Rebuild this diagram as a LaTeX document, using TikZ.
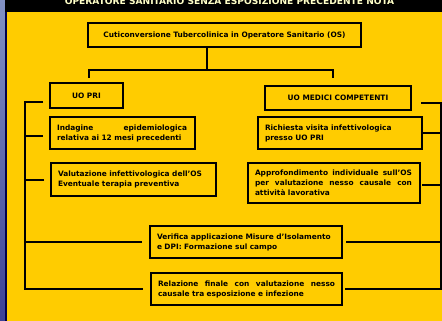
\documentclass[tikz,border=0pt]{standalone}
\usepackage{fontspec}
\setmainfont{DejaVu Sans}
\definecolor{yel}{RGB}{255,204,0}
\definecolor{hdtext}{RGB}{255,255,200}
\definecolor{bluetop}{RGB}{130,145,195}
\definecolor{bluebot}{RGB}{60,65,150}
\newcommand{\spreadline}[2]{\leavevmode\hbox to #1{#2}}
\begin{document}
\begin{tikzpicture}[x=1pt,y=-1pt,
  box/.style={draw=black,line width=2pt,fill=yel,inner xsep=7pt,inner ysep=0pt,
    font=\bfseries\fontsize{7.4}{10}\selectfont,text=black},
  lbox/.style={box,align=left},
  conn/.style={draw=black,line width=2pt}]
\useasboundingbox (0,0) rectangle (442,321);
\clip (0,0) rectangle (442,321);
% background
\shade[top color=bluetop,bottom color=bluebot] (0,0) rectangle (7,321);
\fill[black!70!blue] (5,12) rectangle (7,321);
\fill[black] (5,0) rectangle (442,12);
\fill[yel] (7,12) rectangle (442,321);
\node[anchor=base,text=hdtext,font=\bfseries\fontsize{9.1}{10}\selectfont,inner sep=0pt] (title) at (229.5,4.2)
  {OPERATORE SANITARIO SENZA ESPOSIZIONE PRECEDENTE NOTA};
% boxes
\node[box,minimum width=273pt,minimum height=24pt] (top) at (224.5,35)
  {Cuticonversione Tubercolinica in Operatore Sanitario (OS)};
\node[box,minimum width=73pt,minimum height=25pt] (pri) at (86.5,95.5) {UO PRI};
\node[box,minimum width=146pt,minimum height=24pt] (med) at (338,98) {UO MEDICI COMPETENTI};
\node[lbox,text width=131pt,minimum height=32pt] (ind) at (122.5,133)
  {\spreadline{130pt}{Indagine\hfill epidemiologica}\\relativa ai 12 mesi precedenti};
\node[lbox,text width=150pt,minimum height=32pt] (ric) at (340,133)
  {Richiesta visita infettivologica\\presso UO PRI};
\node[lbox,text width=151pt,minimum height=33pt] (val) at (133.5,179.5)
  {Valutazione infettivologica dell'OS\\Eventuale terapia preventiva};
\node[lbox,text width=158pt,minimum height=40pt] (app) at (334,183)
  {\spreadline{157pt}{Approfondimento\hfill individuale\hfill sull'OS}\\
   \spreadline{157pt}{per\hfill valutazione\hfill nesso\hfill causale\hfill con}\\attività lavorativa};
\node[lbox,text width=178pt,minimum height=32pt] (ver) at (246,242)
  {Verifica applicazione Misure d'Isolamento\\e DPI: Formazione sul campo};
\node[lbox,text width=177pt,minimum height=32pt] (rel) at (246.5,289)
  {\spreadline{177pt}{Relazione\hfill finale\hfill con\hfill valutazione\hfill nesso}\\causale tra esposizione e infezione};
% connector coordinates
\coordinate (tj) at (207,70);
\coordinate (dl) at (89,78);
\coordinate (dr) at (333,78);
\coordinate (lt) at (43,102);
\coordinate (lx) at (25,0);
\coordinate (rt) at (421,102.5);
\coordinate (rx) at (441,0);
% top tree
\draw[conn] (tj |- top.south) -- (tj);
\draw[conn] (dl) |- (tj) -| (dr);
% left bracket
\draw[conn] (lt) -| (lx |- rel.west) -- ([xshift=-7pt]rel.west);
\draw[conn] ([shift={(-6pt,-3pt)}]ind.west) coordinate (b1) -- (lx |- b1);
\draw[conn] ([xshift=-6pt]val.west) -- (lx |- val.west);
\draw[conn] ([xshift=-7pt]ver.west) -- (lx |- ver.west);
% right bracket
\draw[conn] (rt) -| (rx |- rel.east) -- ([xshift=2pt]rel.east);
\draw[conn] (ric.east) -- (rx |- ric.east);
\draw[conn] ([shift={(1pt,-2pt)}]app.east) coordinate (b2) -- (rx |- b2);
\draw[conn] ([xshift=3pt]ver.east) -- (rx |- ver.east);
\end{tikzpicture}
\end{document}
